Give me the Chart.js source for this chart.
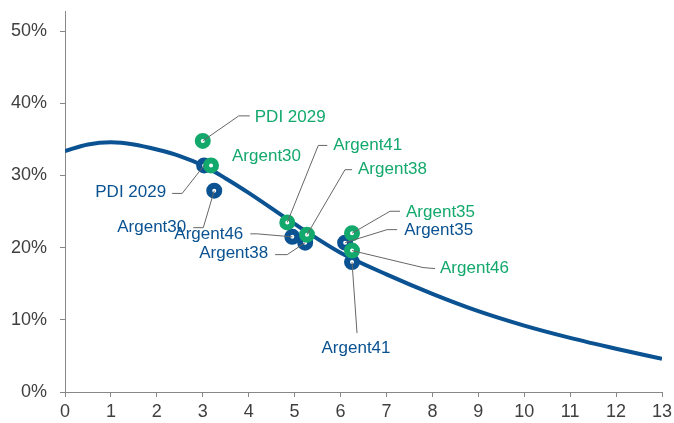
<!DOCTYPE html>
<html>
<head>
<meta charset="utf-8">
<script src="https://cdn.jsdelivr.net/npm/chart.js@4"></script>
<style>
  html, body { margin: 0; padding: 0; background: #fff; }
</style>
</head>
<body>
<canvas id="chart1" width="674" height="423"></canvas>
<script>
// fitted curve
const curveX = [0, 0.5, 1, 1.5, 2, 2.5, 3, 3.5, 4, 5, 6, 7, 8, 9, 10, 11, 12, 13];
const curveY = [33.4, 34.3, 34.6, 34.3, 33.6, 32.7, 31.4, 29.6, 27.6, 23.3, 19.3, 16.3, 13.6, 11.2, 9.2, 7.5, 6.0, 4.6];

// green bonds
const greenNames = ['PDI 2029', 'Argent30', 'Argent41', 'Argent38', 'Argent35', 'Argent46'];
const greenX = [3.0, 3.18, 4.84, 5.27, 6.25, 6.25];
const greenY = [34.8, 31.4, 23.5, 21.8, 22.0, 19.6];

// blue bonds
const blueNames = ['PDI 2029', 'Argent30', 'Argent46', 'Argent38', 'Argent35', 'Argent41'];
const blueX = [3.03, 3.25, 4.95, 5.23, 6.10, 6.25];
const blueY = [31.4, 27.9, 21.5, 20.7, 20.7, 18.0];

const yTicks = [0, 10, 20, 30, 40, 50];

const BLUE = '#0A5291';
const GREEN = '#13A86C';

// label placement relative to the marker: leader polyline, text anchor, align
const greenLayout = [
  { line: [[36, -25], [47, -25]], text: [52, -24], align: 'left' },
  { line: [], text: [21, -9], align: 'left' },
  { line: [[31, -77], [40, -77]], text: [46, -77], align: 'left' },
  { line: [[38, -65], [45, -65]], text: [51, -65], align: 'left' },
  { line: [[38, -22], [48, -22]], text: [54, -21], align: 'left' },
  { line: [[71, 17], [83, 18]], text: [88, 18], align: 'left' }
];
const blueLayout = [
  { line: [[-22, 28], [-32, 28]], text: [-38, 27], align: 'right' },
  { line: [[-11, 37], [-21, 37]], text: [-28, 37], align: 'right' },
  { line: [[-35, -3], [-42, -3]], text: [-49, -3], align: 'right' },
  { line: [[-18, 12], [-30, 12]], text: [-37, 11], align: 'right' },
  { line: [[42, -13], [52, -13]], text: [59, -12], align: 'left' },
  { line: [[5, 71]], text: [4, 86], align: 'center' }
];

const toPoints = (xs, ys) => xs.map((x, i) => ({ x: x, y: ys[i] }));

const leaderLabels = {
  id: 'leaderLabels',
  afterDatasetsDraw(chart) {
    const ctx = chart.ctx;
    ctx.save();
    chart.data.datasets.forEach((ds, di) => {
      if (!ds.labelNames) return;
      const meta = chart.getDatasetMeta(di);
      meta.data.forEach((pt, i) => {
        const lay = ds.labelLayout[i];
        if (lay.line.length) {
          ctx.beginPath();
          ctx.moveTo(pt.x, pt.y);
          lay.line.forEach(p => ctx.lineTo(pt.x + p[0], pt.y + p[1]));
          ctx.strokeStyle = '#666';
          ctx.lineWidth = 1;
          ctx.stroke();
        }
        ctx.font = '17px "Liberation Sans", Arial, sans-serif';
        ctx.fillStyle = ds.borderColor;
        ctx.textAlign = lay.align;
        ctx.textBaseline = 'middle';
        ctx.fillText(ds.labelNames[i], pt.x + lay.text[0], pt.y + lay.text[1]);
      });
    });
    ctx.restore();
  }
};

const ctx = document.getElementById('chart1');

new Chart(ctx, {
  type: 'scatter',
  data: {
    datasets: [{
      label: 'curve',
      data: toPoints(curveX, curveY),
      showLine: true,
      borderColor: BLUE,
      borderWidth: 4,
      pointRadius: 0,
      cubicInterpolationMode: 'monotone',
      order: 3
    }, {
      label: 'blue',
      data: toPoints(blueX, blueY),
      labelNames: blueNames,
      labelLayout: blueLayout,
      borderColor: BLUE,
      backgroundColor: '#fff',
      pointRadius: 5,
      pointBorderWidth: 6,
      order: 2
    }, {
      label: 'green',
      data: toPoints(greenX, greenY),
      labelNames: greenNames,
      labelLayout: greenLayout,
      borderColor: GREEN,
      backgroundColor: '#fff',
      pointRadius: 5,
      pointBorderWidth: 6,
      order: 1
    }]
  },
  options: {
    responsive: false,
    animation: false,
    layout: { padding: { left: 0, right: 12, top: 10, bottom: 0 } },
    plugins: {
      legend: { display: false },
      tooltip: { enabled: false }
    },
    scales: {
      x: {
        type: 'linear',
        min: 0,
        max: 13,
        ticks: {
          stepSize: 1,
          color: '#404040',
          padding: 4,
          font: { family: '"Liberation Sans", Arial, sans-serif', size: 18 }
        },
        grid: { drawOnChartArea: false, drawTicks: true, tickLength: 5, color: '#888' },
        border: { color: '#888' },
        afterFit: scale => {
          scale.height = 31;
          scale.paddingLeft = 0;
          scale.paddingRight = 0;
        }
      },
      y: {
        min: 0,
        max: 52.8,
        afterBuildTicks: scale => { scale.ticks = yTicks.map(v => ({ value: v })); },
        ticks: {
          color: '#404040',
          padding: 13,
          callback: v => v + '%',
          font: { family: '"Liberation Sans", Arial, sans-serif', size: 18 }
        },
        grid: { drawOnChartArea: false, drawTicks: true, tickLength: 5, color: '#888' },
        border: { color: '#888' },
        afterFit: scale => {
          scale.width = 65;
          scale.paddingTop = 0;
          scale.paddingBottom = 0;
        }
      }
    }
  },
  plugins: [leaderLabels]
});
</script>
</body>
</html>
